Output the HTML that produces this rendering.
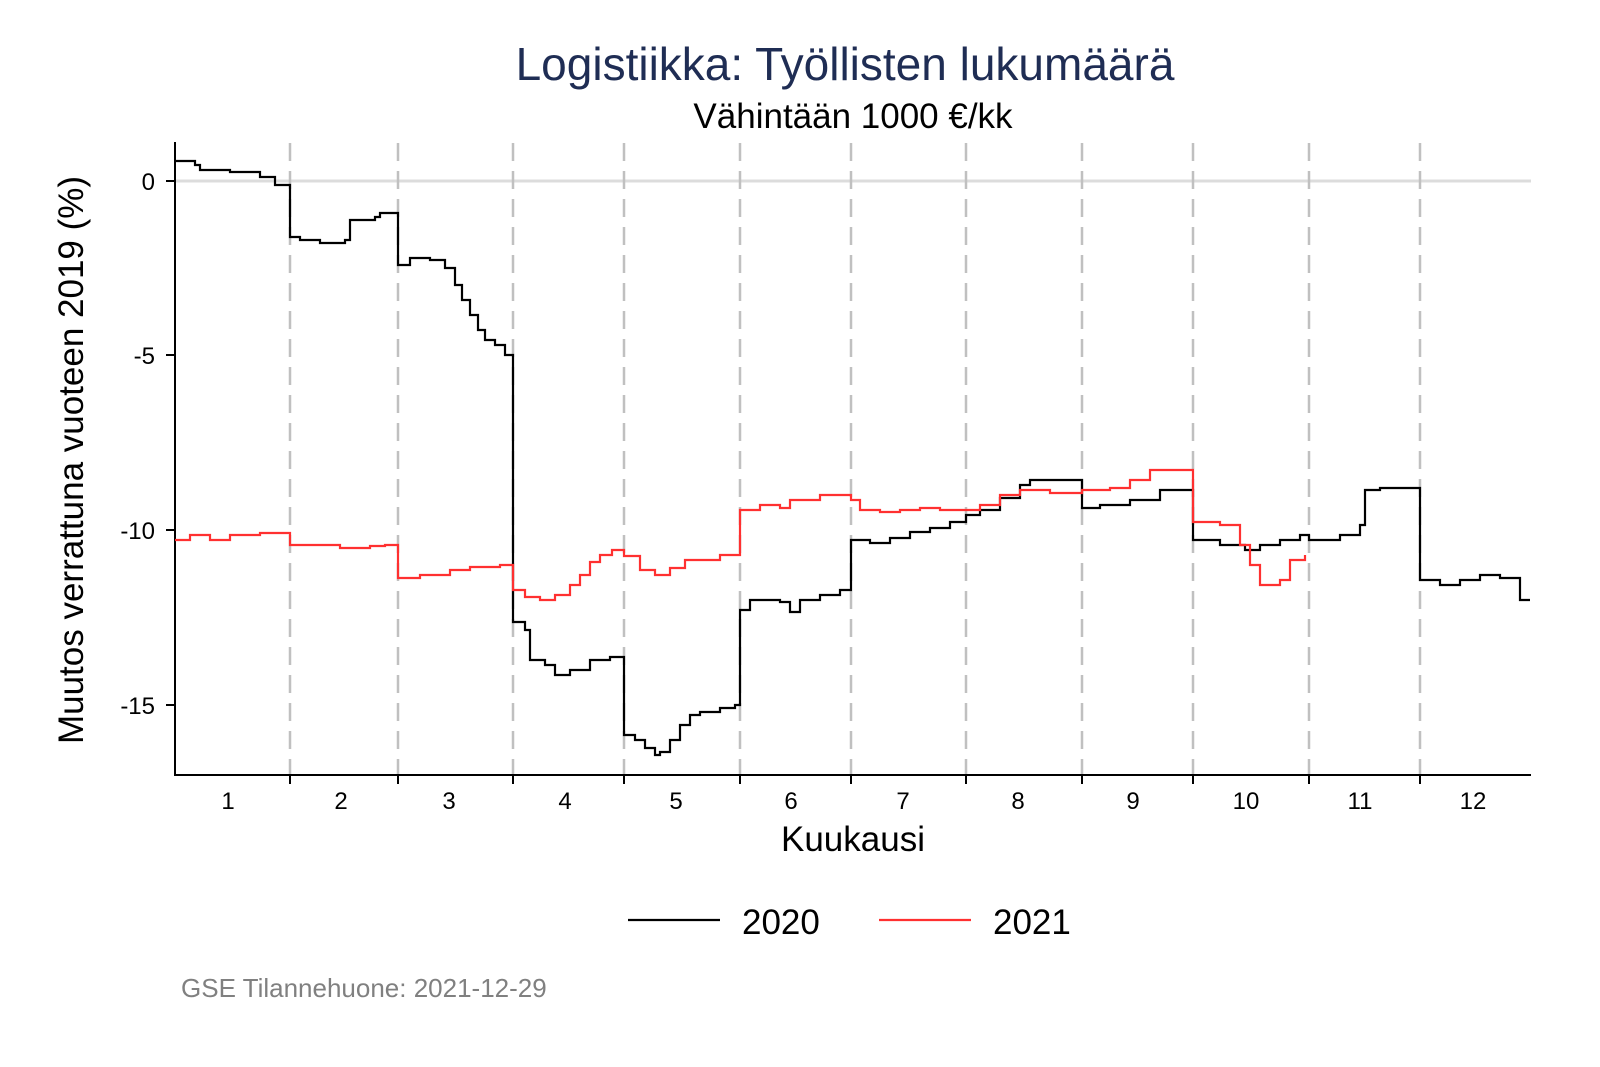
<!DOCTYPE html>
<html><head><meta charset="utf-8"><style>
html,body{margin:0;padding:0;background:#fff;}
svg{display:block;font-family:"Liberation Sans",Arial,sans-serif;}
</style></head><body>
<svg width="1600" height="1067" viewBox="0 0 1600 1067" xmlns="http://www.w3.org/2000/svg">
<rect width="1600" height="1067" fill="#fff"/>
<text x="845" y="80" text-anchor="middle" font-size="46" fill="#1f2d54">Logistiikka: Työllisten lukumäärä</text>
<text x="853" y="128" text-anchor="middle" font-size="35" fill="#000">Vähintään 1000 €/kk</text>
<line x1="175" y1="181" x2="1531" y2="181" stroke="#dcdcdc" stroke-width="3"/>
<g stroke="#c0c0c0" stroke-width="2.5" stroke-dasharray="18,10">
<line x1="290" y1="143" x2="290" y2="775"/><line x1="398" y1="143" x2="398" y2="775"/>
<line x1="513" y1="143" x2="513" y2="775"/><line x1="624" y1="143" x2="624" y2="775"/>
<line x1="740" y1="143" x2="740" y2="775"/><line x1="851" y1="143" x2="851" y2="775"/>
<line x1="966" y1="143" x2="966" y2="775"/><line x1="1082" y1="143" x2="1082" y2="775"/>
<line x1="1193" y1="143" x2="1193" y2="775"/><line x1="1309" y1="143" x2="1309" y2="775"/>
<line x1="1420" y1="143" x2="1420" y2="775"/>
</g>
<g stroke="#000" stroke-width="2" fill="none">
<line x1="175" y1="142" x2="175" y2="776"/>
<line x1="174" y1="775" x2="1531" y2="775"/>
<line x1="166" y1="181" x2="175" y2="181"/><line x1="166" y1="355" x2="175" y2="355"/>
<line x1="166" y1="530" x2="175" y2="530"/><line x1="166" y1="705" x2="175" y2="705"/>
<line x1="290" y1="775" x2="290" y2="784"/><line x1="398" y1="775" x2="398" y2="784"/>
<line x1="513" y1="775" x2="513" y2="784"/><line x1="624" y1="775" x2="624" y2="784"/>
<line x1="740" y1="775" x2="740" y2="784"/><line x1="851" y1="775" x2="851" y2="784"/>
<line x1="966" y1="775" x2="966" y2="784"/><line x1="1082" y1="775" x2="1082" y2="784"/>
<line x1="1193" y1="775" x2="1193" y2="784"/><line x1="1309" y1="775" x2="1309" y2="784"/>
<line x1="1420" y1="775" x2="1420" y2="784"/>
</g>
<g font-size="24" text-anchor="end" fill="#000">
<text x="155" y="190">0</text><text x="155" y="364">-5</text><text x="155" y="539">-10</text><text x="155" y="714">-15</text>
</g>
<g font-size="24" text-anchor="middle" fill="#000">
<text x="228" y="809">1</text><text x="341" y="809">2</text><text x="449" y="809">3</text><text x="565" y="809">4</text>
<text x="676" y="809">5</text><text x="791" y="809">6</text><text x="903" y="809">7</text><text x="1018" y="809">8</text>
<text x="1133" y="809">9</text><text x="1246" y="809">10</text><text x="1360" y="809">11</text><text x="1473" y="809">12</text>
</g>
<text x="853" y="851" text-anchor="middle" font-size="35">Kuukausi</text>
<text transform="translate(83,460) rotate(-90)" text-anchor="middle" font-size="35">Muutos verrattuna vuoteen 2019 (%)</text>
<path fill="none" stroke="#000" stroke-width="2.2" d="M175 161 H195 V165 H200 V170 H230 V172 H260 V177 H275 V185 H290 V237 H300 V240 H320 V243 H345 V240 H350 V220 H375 V217 H380 V213 H398 V265 H410 V258 H430 V260 H445 V268 H455 V285 H462 V300 H470 V315 H478 V330 H485 V340 H495 V345 H505 V355 H513 V622 H525 V630 H530 V660 H545 V665 H555 V675 H570 V670 H590 V660 H610 V657 H624 V735 H635 V740 H645 V748 H655 V755 H660 V752 H670 V740 H680 V725 H690 V715 H700 V712 H720 V708 H735 V705 H740 V610 H750 V600 H780 V602 H790 V612 H800 V600 H820 V595 H840 V590 H851 V540 H870 V543 H890 V538 H910 V532 H930 V528 H950 V522 H966 V515 H980 V510 H1000 V498 H1020 V485 H1030 V480 H1050 V480 H1082 V508 H1100 V505 H1130 V500 H1160 V490 H1193 V540 H1220 V545 H1245 V550 H1260 V545 H1280 V540 H1300 V535 H1309 V540 H1340 V535 H1360 V525 H1365 V490 H1380 V488 H1420 V580 H1440 V585 H1460 V580 H1480 V575 H1500 V578 H1520 V600 H1530"/>
<path fill="none" stroke="#ff3030" stroke-width="2.2" d="M175 540 H190 V535 H210 V540 H230 V535 H260 V533 H290 V545 H340 V548 H370 V546 H385 V545 H398 V578 H420 V575 H450 V570 H470 V567 H500 V565 H513 V590 H525 V597 H540 V600 H555 V595 H570 V585 H580 V575 H590 V562 H600 V555 H612 V550 H624 V556 H640 V570 H655 V575 H670 V568 H685 V560 H700 V560 H720 V555 H740 V510 H760 V505 H780 V508 H790 V500 H820 V495 H851 V500 H860 V510 H880 V512 H900 V510 H920 V508 H940 V510 H960 V510 H980 V505 H1000 V495 H1020 V490 H1050 V493 H1082 V490 H1110 V488 H1130 V480 H1150 V470 H1180 V470 H1193 V522 H1220 V525 H1240 V545 H1250 V565 H1260 V585 H1280 V580 H1290 V560 H1305 V555"/>
<line x1="628" y1="920" x2="720" y2="920" stroke="#000" stroke-width="2.2"/>
<text x="742" y="934" font-size="35">2020</text>
<line x1="879" y1="920" x2="971" y2="920" stroke="#ff3030" stroke-width="2.2"/>
<text x="993" y="934" font-size="35">2021</text>
<text x="181" y="997" font-size="26" fill="#808080">GSE Tilannehuone: 2021-12-29</text>
</svg>
</body></html>
